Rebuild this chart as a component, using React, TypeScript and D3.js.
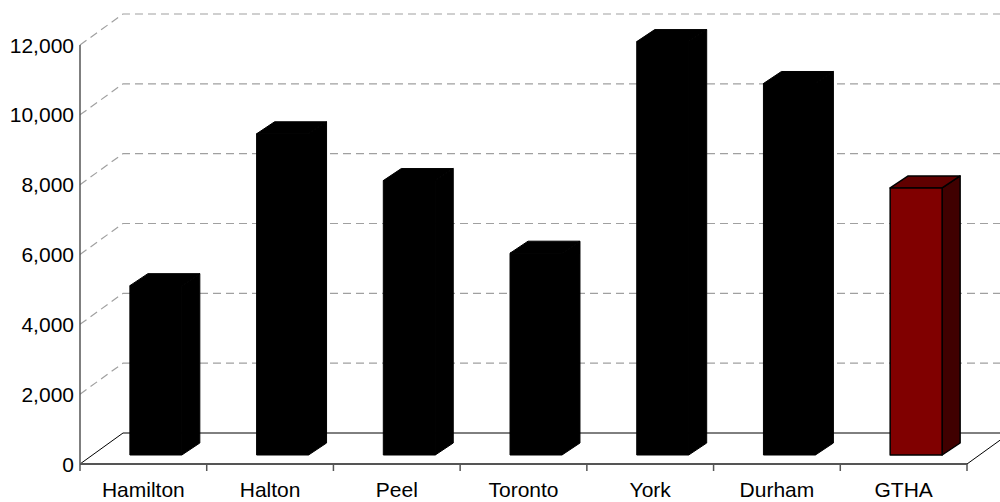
import React from "react";
import * as d3 from "d3";

// Categories and values (dwelling counts by region)
const categories: string[] = ["Hamilton", "Halton", "Peel", "Toronto", "York", "Durham", "GTHA"];
const values: number[] = [4850, 9200, 7860, 5780, 11840, 10640, 7650];
const yTicks: number[] = [0, 2000, 4000, 6000, 8000, 10000, 12000];

const W = 1000;
const H = 502;

// Plot geometry (front plane) and the pseudo-3D depth offsets
const left = 80;
const right = 967;
const top = 45;
const bottom = 464;
const floorDx = 43; // full floor depth, horizontal shift
const floorDy = -31; // full floor depth, vertical shift
const barFrontDx = 12.5; // bar front face sits part-way into the floor
const barFrontDy = -9;
const barDepthDx = 18; // bar thickness in depth
const barDepthDy = -12;

const fmt = d3.format(",");

export default function App() {
  const x = d3
    .scaleBand<string>()
    .domain(categories)
    .range([left, right])
    .paddingInner(0.59)
    .paddingOuter(0.295);
  const bandStep = x.step();
  const y = d3.scaleLinear().domain([0, 12000]).range([bottom, top]);

  const font = "'Liberation Sans', Arial, Helvetica, sans-serif";

  return (
    <svg
      width={W}
      height={H}
      style={{ position: "absolute", left: 0, top: 0, background: "#fff" }}
      fontFamily={font}
    >
      {/* back-wall gridlines running across the left wall and the back wall */}
      {yTicks.slice(1).map((t) => {
        const yf = y(t);
        const d = `M${left},${yf} L${left + floorDx},${yf + floorDy} L${right + floorDx + 10},${yf + floorDy}`;
        return (
          <path key={t} d={d} fill="none" stroke="#a0a0a0" strokeWidth={1.2} strokeDasharray="8,5" />
        );
      })}

      {/* floor outline */}
      <path
        d={`M${left},${bottom} L${left + floorDx},${bottom + floorDy} L${right + floorDx},${bottom + floorDy} L${right},${bottom}`}
        fill="none"
        stroke="#000"
        strokeWidth={1}
      />

      {/* bars */}
      {categories.map((c, i) => {
        const v = values[i];
        const isTotal = c === "GTHA";
        const front = isTotal ? "#800000" : "#000";
        const side = isTotal ? "#400000" : "#000";
        const topFill = isTotal ? "#600000" : "#000";
        const x0 = (x(c) as number) + barFrontDx;
        const x1 = x0 + x.bandwidth();
        const y0 = y(0) + barFrontDy;
        const y1 = y(v) + barFrontDy;
        const dx = barDepthDx;
        const dy = barDepthDy;
        return (
          <g key={c} stroke="#000" strokeWidth={isTotal ? 1.5 : 1} strokeLinejoin="round">
            <polygon
              points={`${x1},${y0} ${x1 + dx},${y0 + dy} ${x1 + dx},${y1 + dy} ${x1},${y1}`}
              fill={side}
            />
            <polygon
              points={`${x0},${y1} ${x0 + dx},${y1 + dy} ${x1 + dx},${y1 + dy} ${x1},${y1}`}
              fill={topFill}
            />
            <rect x={x0} y={y1} width={x1 - x0} height={y0 - y1} fill={front} />
          </g>
        );
      })}

      {/* value axis */}
      <line x1={left} x2={left} y1={top} y2={bottom} stroke="#555" strokeWidth={1.5} />
      {yTicks.map((t) => (
        <text key={t} x={left - 6} y={y(t)} dy="0.36em" textAnchor="end" fontSize={21} fill="#000">
          {fmt(t)}
        </text>
      ))}

      {/* category axis */}
      <line x1={left} x2={right} y1={bottom} y2={bottom} stroke="#555" strokeWidth={2} />
      {d3.range(categories.length + 1).map((k) => {
        const tx = left + k * bandStep;
        return <line key={k} x1={tx} x2={tx} y1={bottom} y2={bottom + 7} stroke="#555" strokeWidth={1.5} />;
      })}
      {categories.map((c) => (
        <text
          key={c}
          x={(x(c) as number) + x.bandwidth() / 2}
          y={497}
          textAnchor="middle"
          fontSize={21}
          fill="#000"
        >
          {c}
        </text>
      ))}
    </svg>
  );
}
